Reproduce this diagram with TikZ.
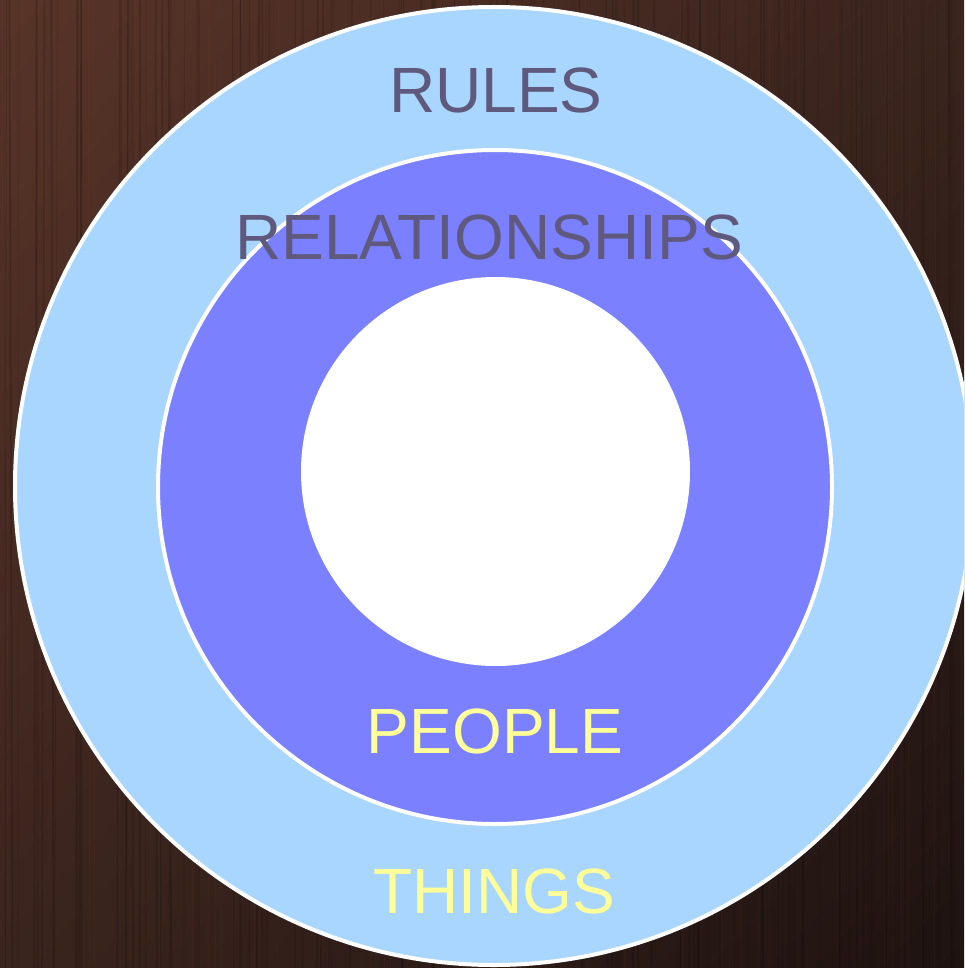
\documentclass[tikz,border=0pt]{standalone}
\usepackage{fontspec}
\setmainfont{Liberation Sans}
\usepackage{tikz}
\usetikzlibrary{shadings}

\definecolor{woodlight}{RGB}{88,52,40}
\definecolor{woodmid}{RGB}{58,36,30}
\definecolor{wooddark}{RGB}{30,19,17}
\definecolor{ringouter}{RGB}{168,214,254}
\definecolor{ringmiddle}{RGB}{122,128,255}
\definecolor{labeldark}{RGB}{95,89,126}
\definecolor{labellight}{RGB}{255,255,153}

\tikzset{
  ring/.style={draw=white, line width=4pt},
  ringlabel/.style={anchor=base, inner sep=0pt, font=\fontsize{64}{70}\selectfont},
  darklabel/.style={ringlabel, text=labeldark},
  lightlabel/.style={ringlabel, text=labellight}
}

\begin{document}
\begin{tikzpicture}[x=1pt, y=-1pt]
  \useasboundingbox (0,0) rectangle (964,968);
  % wooden backdrop
  \shade[upper left=woodlight, upper right=woodmid, lower left=woodmid, lower right=wooddark]
    (0,0) rectangle (964,968);
  \pgfmathsetseed{7}
  \foreach \i in {1,...,120}{
    \pgfmathsetmacro{\gx}{rnd*964}
    \pgfmathsetmacro{\go}{0.05+0.12*rnd}
    \draw[black, opacity=\go, line width=0.6pt+1.4pt*rnd] (\gx,0) -- (\gx+6*rnd-3,968);
  }
  \foreach \i in {1,...,50}{
    \pgfmathsetmacro{\gx}{rnd*964}
    \draw[woodlight!70!orange, opacity=0.08, line width=1pt] (\gx,0) -- (\gx+4*rnd-2,968);
  }

  % the three rings
  \begin{scope}
    \clip (0,0) rectangle (964,968);
    \filldraw[ring, fill=ringouter] (494,486) circle (479);
  \end{scope}
  \filldraw[ring, fill=ringmiddle] (495,487) circle (337);
  \fill[white] (495.5,471.5) circle (194.5);

  % labels
  \node[darklabel] (rules) at (496,113) {RULES};
  \node[darklabel] (relations) at (489,259) {RELATIONSHIPS};
  \node[lightlabel] (people) at (495,753) {PEOPLE};
  \node[lightlabel] (things) at (494,913) {THINGS};
\end{tikzpicture}
\end{document}
